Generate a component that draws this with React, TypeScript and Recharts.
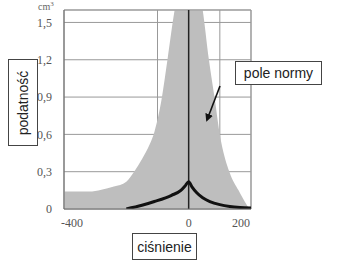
import * as React from "react"
import { ComposedChart, Area, Line, XAxis, YAxis, CartesianGrid, ReferenceLine } from "recharts"

// upper edge of the grey "pole normy" band
const normX = [-400, -320, -280, -240, -200, -175, -150, -125, -110, -87, -68, -45, 0, 45, 65, 84, 100, 132, 160, 187, 195]
const normUpper = [0.14, 0.14, 0.155, 0.18, 0.22, 0.3, 0.4, 0.52, 0.62, 0.88, 1.2, 1.6, 2.0, 1.6, 1.2, 0.88, 0.6, 0.29, 0.15, 0.03, 0]

// measured compliance curve (thick black)
const curveX = [-200, -150, -110, -55, -25, -10, 0, 10, 26, 45, 68, 100, 132, 165, 200]
const curveY = [0.0, 0.03, 0.06, 0.11, 0.15, 0.19, 0.22, 0.18, 0.13, 0.09, 0.06, 0.035, 0.02, 0.012, 0.008]

const xTicks = [-400, -200, -100, 0, 100, 200]
const xLabelled = [-400, -200, 0, 200]
const yTicks = [0, 0.3, 0.6, 0.9, 1.2, 1.5]

const normData = normX.map((x, i) => ({ x, v: normUpper[i] }))
const curveData = curveX.map((x, i) => ({ x, v: curveY[i] }))

const serif = "'Liberation Serif', 'DejaVu Serif', serif"
const sans = "'Liberation Sans', Arial, sans-serif"

function XTick(props: any) {
  const { x, y, payload } = props
  const shown = xLabelled.includes(payload.value)
  const dx = payload.value === -400 ? 8 : payload.value === 200 ? -10 : 0
  return (
    <text x={x + dx} y={y + 10} textAnchor="middle" fontFamily={serif} fontSize={12} fill="#555">
      {shown ? payload.value : ""}
    </text>
  )
}

const box: React.CSSProperties = {
  position: "absolute",
  border: "1px solid #444",
  background: "#fff",
  fontFamily: sans,
  fontSize: 14,
  color: "#222",
  display: "flex",
  alignItems: "center",
  justifyContent: "center",
  boxSizing: "border-box",
}

export default function App() {
  return (
    <div style={{ position: "absolute", left: 0, top: 0, width: 337, height: 265, background: "#fff" }}>
      <ComposedChart width={337} height={265} data={normData} margin={{ top: 10, right: 86, left: 34, bottom: 36 }}>
        <CartesianGrid stroke="#999" strokeWidth={1} />
        <XAxis
          dataKey="x"
          type="number"
          domain={[-400, 200]}
          ticks={xTicks}
          tick={<XTick />}
          tickLine={false}
          height={20}
          allowDataOverflow
        />
        <YAxis
          type="number"
          domain={[0, 1.6]}
          ticks={yTicks}
          tick={{ fontFamily: serif, fontSize: 12, fill: "#555" }}
          tickFormatter={(v: number) => String(v).replace(".", ",")}
          tickLine={false}
          tickMargin={6}
          width={30}
          allowDataOverflow
        />
        <Area
          dataKey="v"
          type="monotone"
          stroke="none"
          fill="#bebebe"
          fillOpacity={1}
          isAnimationActive={false}
        />
        <ReferenceLine y={1.6} stroke="#999" ifOverflow="visible" />
        <ReferenceLine x={200} stroke="#999" ifOverflow="visible" />
        <ReferenceLine x={0} stroke="#222" strokeWidth={1.5} />
        <Line
          data={curveData}
          dataKey="v"
          type="monotone"
          stroke="#111"
          strokeWidth={3}
          dot={false}
          isAnimationActive={false}
        />
      </ComposedChart>
      {/* callout arrow for the "pole normy" label */}
      <svg width={337} height={265} style={{ position: "absolute", left: 0, top: 0, pointerEvents: "none" }}>
        <defs>
          <marker id="arrowHead" markerWidth="8" markerHeight="8" refX="6" refY="4" orient="auto" markerUnits="userSpaceOnUse">
            <path d="M0,0 L8,4 L0,8 z" fill="#111" />
          </marker>
        </defs>
        <line x1={220} y1={86} x2={207} y2={120} stroke="#111" strokeWidth={1.6} markerEnd="url(#arrowHead)" />
      </svg>
      <div style={{ position: "absolute", left: 38, top: 0, fontFamily: serif, fontSize: 10, color: "#666" }}>
        cm<sup style={{ fontSize: 7 }}>3</sup>
      </div>
      <div style={{ ...box, left: 8, top: 59, width: 30, height: 87 }}>
        <span style={{ transform: "rotate(-90deg)", whiteSpace: "nowrap", display: "inline-block" }}>podatność</span>
      </div>
      <div style={{ ...box, left: 132, top: 233, width: 65, height: 27 }}>ciśnienie</div>
      <div style={{ ...box, left: 235, top: 61, width: 87, height: 24 }}>pole normy</div>
    </div>
  )
}
